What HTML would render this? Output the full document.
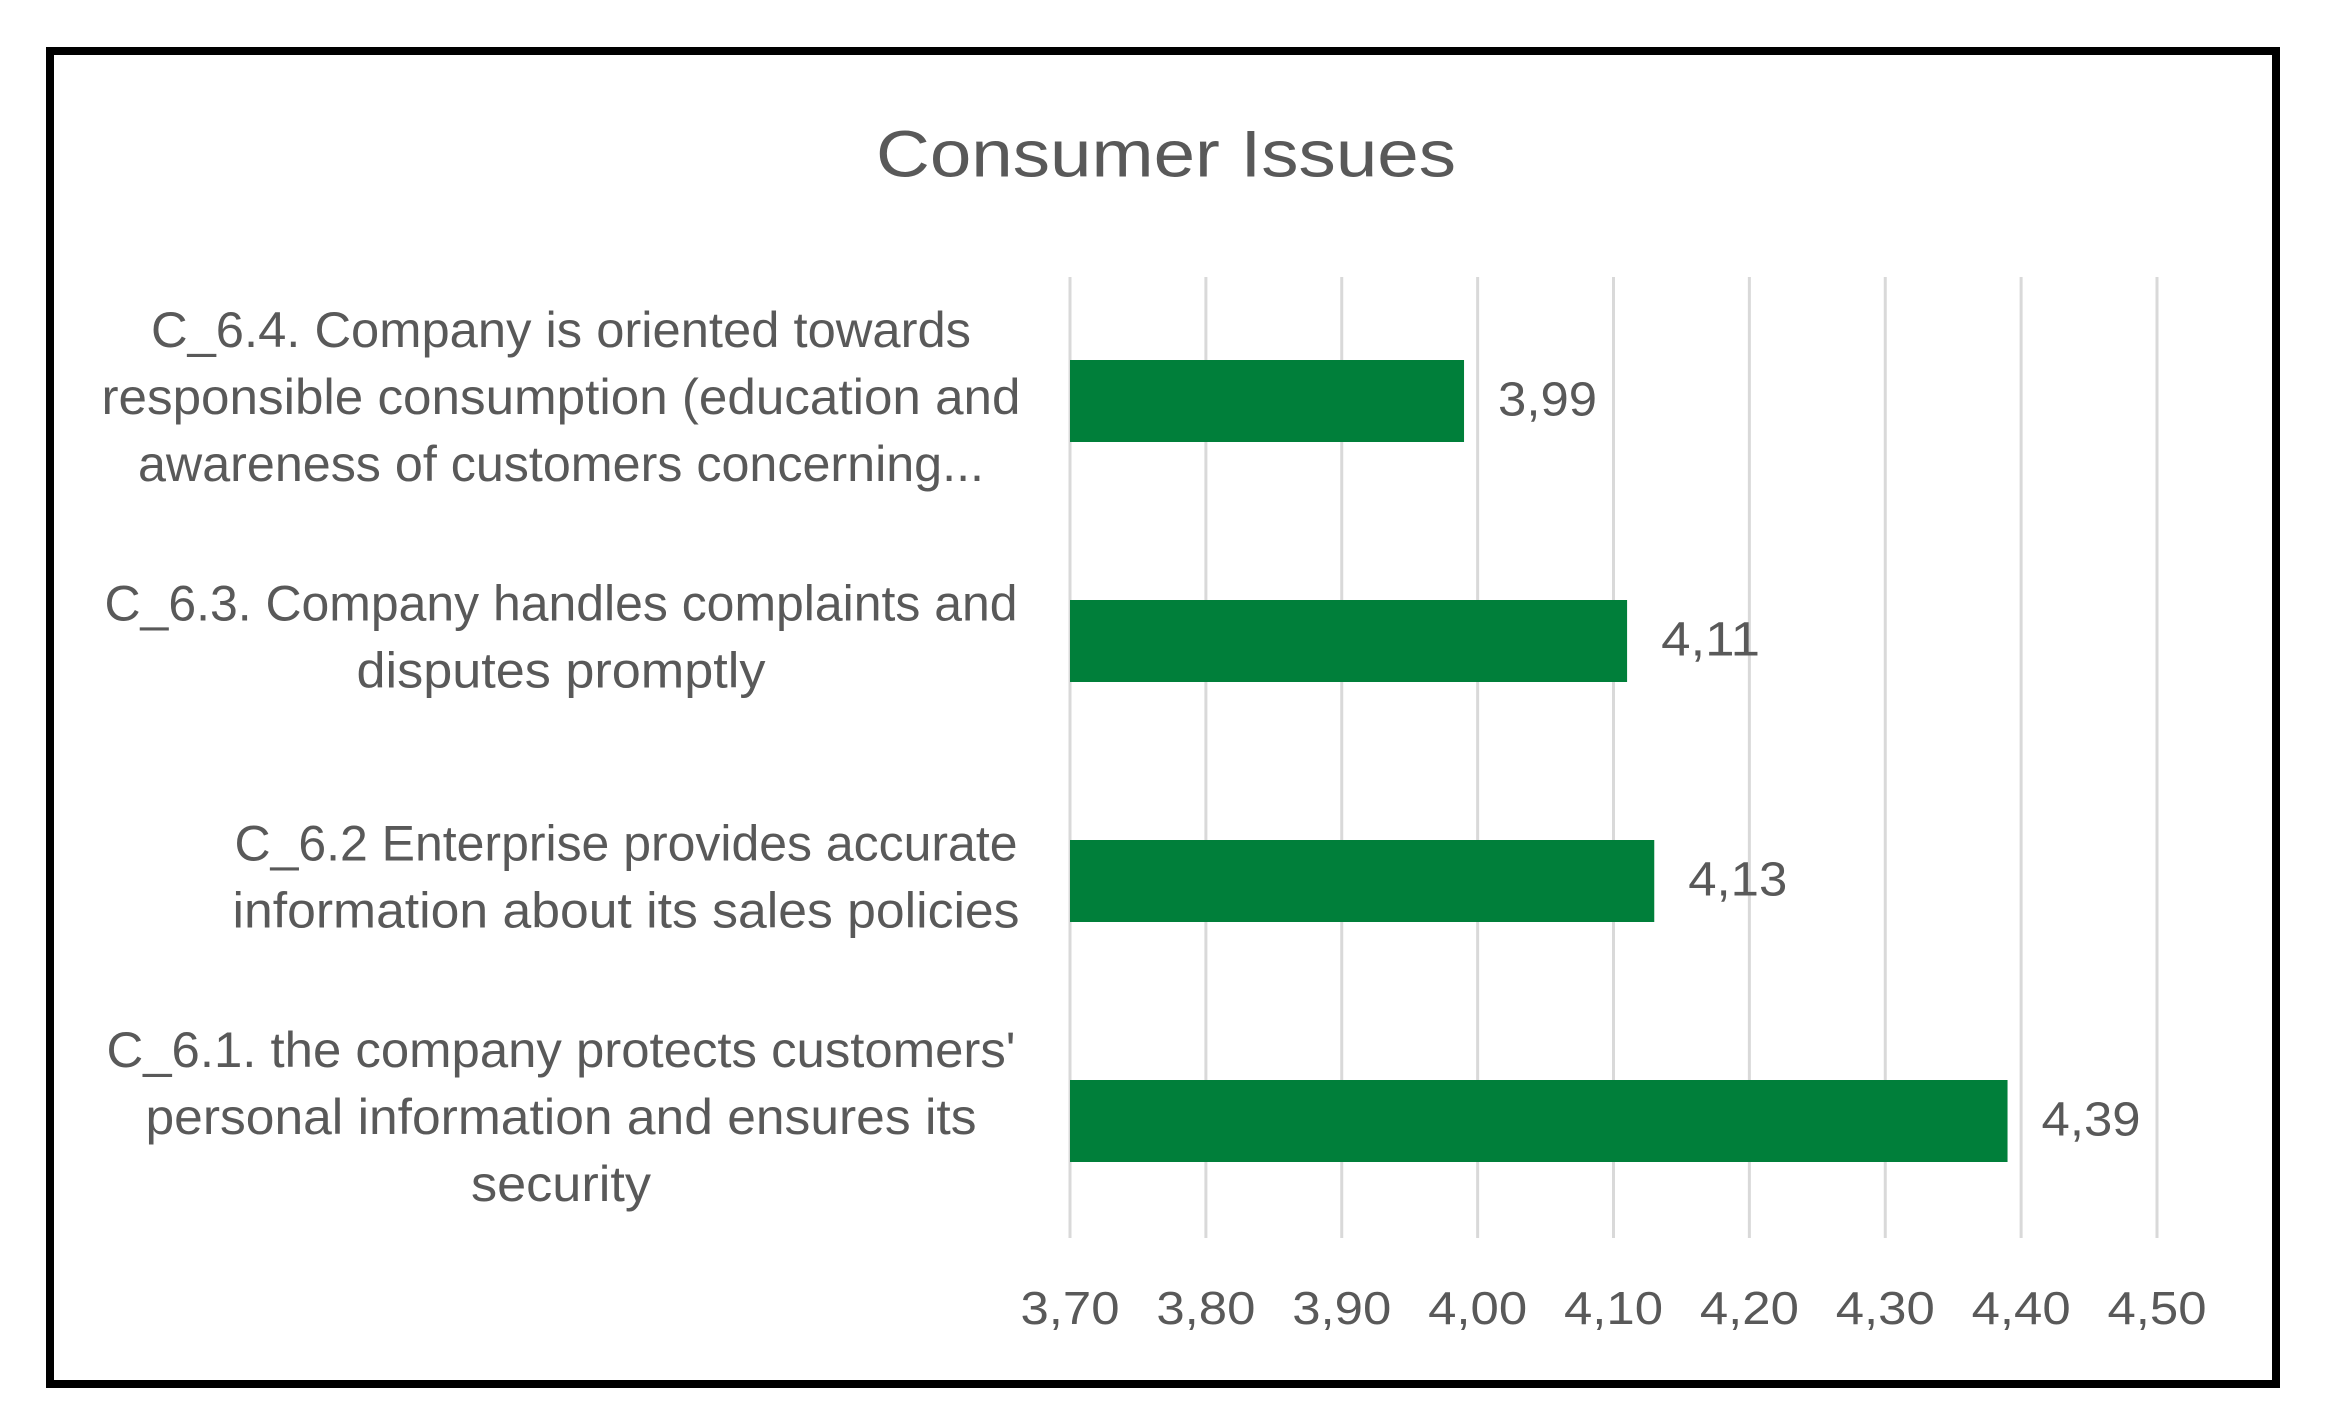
<!DOCTYPE html>
<html><head><meta charset="utf-8"><style>
html,body{margin:0;padding:0;background:#fff;}
svg{display:block;}
text{font-family:"Liberation Sans Narrow","Liberation Sans",sans-serif;fill:#595959;}
</style></head><body>
<svg id="chart" width="2335" height="1427" viewBox="0 0 2335 1427" xmlns="http://www.w3.org/2000/svg">
<rect x="0" y="0" width="2335" height="1427" fill="#fff"/>
<rect x="50" y="51" width="2226" height="1333" fill="none" stroke="#000" stroke-width="8"/>
<text x="1166" y="159" text-anchor="middle" dominant-baseline="middle" font-size="66" textLength="580" lengthAdjust="spacingAndGlyphs">Consumer Issues</text>
<g id="grid"></g>
<g id="bars"></g>
<g id="labels"></g>
</svg>
<script>
const categories = [
  ["C_6.4. Company is oriented towards","responsible consumption (education and","awareness of customers concerning..."],
  ["C_6.3. Company handles complaints and","disputes promptly"],
  ["C_6.2 Enterprise provides accurate","information about its sales policies"],
  ["C_6.1. the company protects customers'","personal information and ensures its","security"]
];
const values = [3.99, 4.11, 4.13, 4.39];
const valueLabels = ["3,99","4,11","4,13","4,39"];
const ticks = [3.70,3.80,3.90,4.00,4.10,4.20,4.30,4.40,4.50];
const tickLabels = ["3,70","3,80","3,90","4,00","4,10","4,20","4,30","4,40","4,50"];

const NS="http://www.w3.org/2000/svg";
const xMin=3.70, xMax=4.50, px0=1070, px1=2157;
function xs(v){return px0+(v-xMin)/(xMax-xMin)*(px1-px0);}
const rowTop=281, rowH=240;
function yc(i){return rowTop+rowH*i+rowH/2;}
const barH=82;
function mk(tag,attrs,parent){const e=document.createElementNS(NS,tag);for(const k in attrs)e.setAttribute(k,attrs[k]);parent.appendChild(e);return e;}
const grid=document.getElementById('grid'),bars=document.getElementById('bars'),labels=document.getElementById('labels');
const lineWidths=[[820,919,846],[913,409],[783,787],[909,831,180]];
ticks.forEach((t,i)=>{
  const l=mk('line',{x1:xs(t),x2:xs(t),y1:277,y2:1238,stroke:'#d9d9d9','stroke-width':3},grid);
  
  
  const tx=mk('text',{x:xs(t),y:1312,'text-anchor':'middle','dominant-baseline':'middle','font-size':46,textLength:99,lengthAdjust:'spacingAndGlyphs'},grid);
  tx.textContent=tickLabels[i];
  
  
});
values.forEach((v,i)=>{
  const r=mk('rect',{x:xs(xMin),y:yc(i)-barH/2,width:xs(v)-xs(xMin),height:barH,fill:'#007f3a'},bars);
  
  
  const t=mk('text',{x:xs(v)+34,y:yc(i)+2,'dominant-baseline':'middle','font-size':48,textLength:99,lengthAdjust:'spacingAndGlyphs'},bars);
  t.textContent=valueLabels[i];
  
  
});
categories.forEach((lines,i)=>{
  const n=lines.length, lh=67;
  lines.forEach((s,j)=>{
    const yy=yc(i)+(j-(n-1)/2)*lh;
    const cx=(i===2)?626:561;
    const t=mk('text',{x:cx,y:yy,'text-anchor':'middle','dominant-baseline':'middle','font-size':50,textLength:lineWidths[i][j],lengthAdjust:'spacingAndGlyphs'},labels);
    t.textContent=s;
    
    
  });
});
</script>
</body></html>
